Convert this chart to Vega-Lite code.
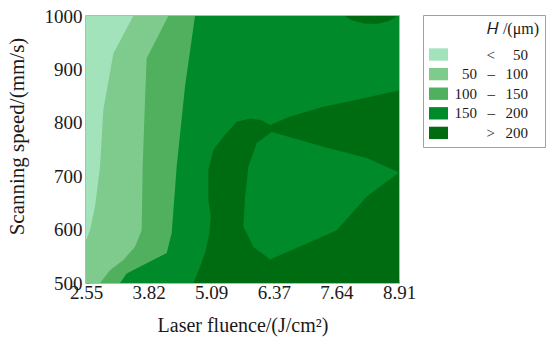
{
  "$schema": "https://vega.github.io/schema/vega-lite/v6.json",
  "autosize": "none",
  "padding": {"left": 86, "top": 16, "right": 151, "bottom": 57},
  "width": 313,
  "height": 267,
  "background": "white",
  "config": {
    "view": {"stroke": "#a0a0a0", "strokeWidth": 1.5},
    "font": "Liberation Serif",
    "axis": {"labelFont": "Liberation Serif", "titleFont": "Liberation Serif"},
    "legend": {"labelFont": "Liberation Serif", "titleFont": "Liberation Serif"}
  },
  "data": {
    "values": [
      {"poly": "bg", "band": "150 – 200", "i": 0, "x": 2.55, "y": 500},
      {"poly": "bg", "band": "150 – 200", "i": 1, "x": 2.55, "y": 1000},
      {"poly": "bg", "band": "150 – 200", "i": 2, "x": 8.91, "y": 1000},
      {"poly": "bg", "band": "150 – 200", "i": 3, "x": 8.91, "y": 500},

      {"poly": "c", "band": "100 – 150", "i": 0, "x": 2.55, "y": 1000},
      {"poly": "c", "band": "100 – 150", "i": 1, "x": 4.765, "y": 1000},
      {"poly": "c", "band": "100 – 150", "i": 2, "x": 4.562, "y": 868},
      {"poly": "c", "band": "100 – 150", "i": 3, "x": 4.393, "y": 718},
      {"poly": "c", "band": "100 – 150", "i": 4, "x": 4.291, "y": 593},
      {"poly": "c", "band": "100 – 150", "i": 5, "x": 4.19, "y": 556},
      {"poly": "c", "band": "100 – 150", "i": 6, "x": 3.783, "y": 537},
      {"poly": "c", "band": "100 – 150", "i": 7, "x": 3.377, "y": 518},
      {"poly": "c", "band": "100 – 150", "i": 8, "x": 3.241, "y": 500},
      {"poly": "c", "band": "100 – 150", "i": 9, "x": 2.55, "y": 500},

      {"poly": "b", "band": "50 – 100", "i": 0, "x": 2.55, "y": 1000},
      {"poly": "b", "band": "50 – 100", "i": 1, "x": 4.223, "y": 1000},
      {"poly": "b", "band": "50 – 100", "i": 2, "x": 3.783, "y": 921},
      {"poly": "b", "band": "50 – 100", "i": 3, "x": 3.749, "y": 843},
      {"poly": "b", "band": "50 – 100", "i": 4, "x": 3.702, "y": 718},
      {"poly": "b", "band": "50 – 100", "i": 5, "x": 3.681, "y": 599},
      {"poly": "b", "band": "50 – 100", "i": 6, "x": 3.546, "y": 568},
      {"poly": "b", "band": "50 – 100", "i": 7, "x": 3.309, "y": 543},
      {"poly": "b", "band": "50 – 100", "i": 8, "x": 3.038, "y": 524},
      {"poly": "b", "band": "50 – 100", "i": 9, "x": 2.835, "y": 500},
      {"poly": "b", "band": "50 – 100", "i": 10, "x": 2.55, "y": 500},

      {"poly": "a", "band": "< 50", "i": 0, "x": 2.55, "y": 1000},
      {"poly": "a", "band": "< 50", "i": 1, "x": 3.51, "y": 1000},
      {"poly": "a", "band": "< 50", "i": 2, "x": 3.106, "y": 930},
      {"poly": "a", "band": "< 50", "i": 3, "x": 2.902, "y": 824},
      {"poly": "a", "band": "< 50", "i": 4, "x": 2.835, "y": 718},
      {"poly": "a", "band": "< 50", "i": 5, "x": 2.733, "y": 643},
      {"poly": "a", "band": "< 50", "i": 6, "x": 2.631, "y": 599},
      {"poly": "a", "band": "< 50", "i": 7, "x": 2.55, "y": 580},

      {"poly": "d", "band": "> 200", "i": 0, "x": 4.732, "y": 500},
      {"poly": "d", "band": "> 200", "i": 1, "x": 4.867, "y": 531},
      {"poly": "d", "band": "> 200", "i": 2, "x": 4.969, "y": 556},
      {"poly": "d", "band": "> 200", "i": 3, "x": 5.057, "y": 593},
      {"poly": "d", "band": "> 200", "i": 4, "x": 5.084, "y": 624},
      {"poly": "d", "band": "> 200", "i": 5, "x": 5.036, "y": 655},
      {"poly": "d", "band": "> 200", "i": 6, "x": 5.036, "y": 712},
      {"poly": "d", "band": "> 200", "i": 7, "x": 5.138, "y": 749},
      {"poly": "d", "band": "> 200", "i": 8, "x": 5.341, "y": 774},
      {"poly": "d", "band": "> 200", "i": 9, "x": 5.612, "y": 802},
      {"poly": "d", "band": "> 200", "i": 10, "x": 5.883, "y": 808},
      {"poly": "d", "band": "> 200", "i": 11, "x": 6.12, "y": 805},
      {"poly": "d", "band": "> 200", "i": 12, "x": 6.29, "y": 796},
      {"poly": "d", "band": "> 200", "i": 13, "x": 6.696, "y": 812},
      {"poly": "d", "band": "> 200", "i": 14, "x": 7.374, "y": 830},
      {"poly": "d", "band": "> 200", "i": 15, "x": 8.051, "y": 843},
      {"poly": "d", "band": "> 200", "i": 16, "x": 8.91, "y": 861},
      {"poly": "d", "band": "> 200", "i": 17, "x": 8.91, "y": 500},

      {"poly": "e", "band": "> 200", "i": 0, "x": 7.81, "y": 1000},
      {"poly": "e", "band": "> 200", "i": 1, "x": 7.95, "y": 992},
      {"poly": "e", "band": "> 200", "i": 2, "x": 8.2, "y": 986},
      {"poly": "e", "band": "> 200", "i": 3, "x": 8.45, "y": 985},
      {"poly": "e", "band": "> 200", "i": 4, "x": 8.7, "y": 990},
      {"poly": "e", "band": "> 200", "i": 5, "x": 8.87, "y": 1000},

      {"poly": "f", "band": "150 – 200", "i": 0, "x": 6.324, "y": 783},
      {"poly": "f", "band": "150 – 200", "i": 1, "x": 7.374, "y": 755},
      {"poly": "f", "band": "150 – 200", "i": 2, "x": 8.255, "y": 734},
      {"poly": "f", "band": "150 – 200", "i": 3, "x": 8.91, "y": 707},
      {"poly": "f", "band": "150 – 200", "i": 4, "x": 8.255, "y": 662},
      {"poly": "f", "band": "150 – 200", "i": 5, "x": 7.645, "y": 599},
      {"poly": "f", "band": "150 – 200", "i": 6, "x": 7.035, "y": 574},
      {"poly": "f", "band": "150 – 200", "i": 7, "x": 6.29, "y": 544},
      {"poly": "f", "band": "150 – 200", "i": 8, "x": 5.951, "y": 568},
      {"poly": "f", "band": "150 – 200", "i": 9, "x": 5.748, "y": 606},
      {"poly": "f", "band": "150 – 200", "i": 10, "x": 5.782, "y": 662},
      {"poly": "f", "band": "150 – 200", "i": 11, "x": 5.85, "y": 718},
      {"poly": "f", "band": "150 – 200", "i": 12, "x": 6.019, "y": 762}
    ]
  },
  "mark": {"type": "line", "strokeWidth": 0, "clip": true, "interpolate": "linear"},
  "encoding": {
    "x": {
      "field": "x", "type": "quantitative",
      "scale": {"domain": [2.55, 8.91], "nice": false, "zero": false},
      "axis": {
        "values": [2.55, 3.822, 5.094, 6.366, 7.638, 8.91],
        "format": ".2f",
        "labelFlush": false,
        "labelOverlap": false,
        "title": "Laser fluence/(J/cm²)",
        "domain": false, "grid": false,
        "tickSize": -4, "tickColor": "#a0a0a0", "tickWidth": 1,
        "labelPadding": 4,
        "labelFont": "Liberation Serif", "labelFontSize": 19, "labelColor": "#1a1a1a",
        "titleFont": "Liberation Serif", "titleFontSize": 20, "titleFontWeight": "normal", "titleColor": "#1a1a1a",
        "titlePadding": 13
      }
    },
    "y": {
      "field": "y", "type": "quantitative",
      "scale": {"domain": [500, 1000], "nice": false, "zero": false},
      "axis": {
        "values": [500, 600, 700, 800, 900, 1000],
        "format": "d",
        "labelOverlap": false,
        "title": "Scanning speed/(mm/s)",
        "domain": false, "grid": false,
        "tickSize": -4, "tickColor": "#a0a0a0", "tickWidth": 1,
        "labelPadding": 8,
        "labelFont": "Liberation Serif", "labelFontSize": 19, "labelColor": "#1a1a1a",
        "titleFont": "Liberation Serif", "titleFontSize": 21, "titleFontWeight": "normal", "titleColor": "#1a1a1a",
        "titlePadding": 17,
        "titleY": 120
      }
    },
    "order": {"field": "i", "type": "quantitative"},
    "detail": {"field": "poly", "type": "nominal"},
    "fill": {
      "field": "band", "type": "nominal",
      "scale": {
        "domain": ["< 50", "50 – 100", "100 – 150", "150 – 200", "> 200"],
        "range": ["#a3e3bc", "#7fcb8e", "#50b05e", "#008a2a", "#006c12"]
      },
      "legend": {
        "orient": "none", "legendX": 337, "legendY": -1,
        "title": "𝐻 /(μm)",
        "titleFont": "Liberation Serif", "titleFontSize": 16, "titleFontWeight": "normal", "titleColor": "#1a1a1a",
        "titleAnchor": "end", "titlePadding": 8,
        "labelFont": "Liberation Serif", "labelFontSize": 15, "labelColor": "#1a1a1a",
        "labelAlign": "right", "labelOffset": 91,
        "labelExpr": "datum.value == '< 50' ? '<\u2002\u2002\u200950\u2800' : datum.value == '> 200' ? '>\u2002\u2009200\u2800' : replace(datum.value, ' – ', '\u2002\u2009–\u2002\u2009') + '\u2800'",
        "symbolType": "M-1,-0.65H1V0.65H-1Z", "symbolSize": 361, "symbolStrokeWidth": 0,
        "rowPadding": 1.6,
        "strokeColor": "#a0a0a0", "padding": 6
      }
    }
  }
}
